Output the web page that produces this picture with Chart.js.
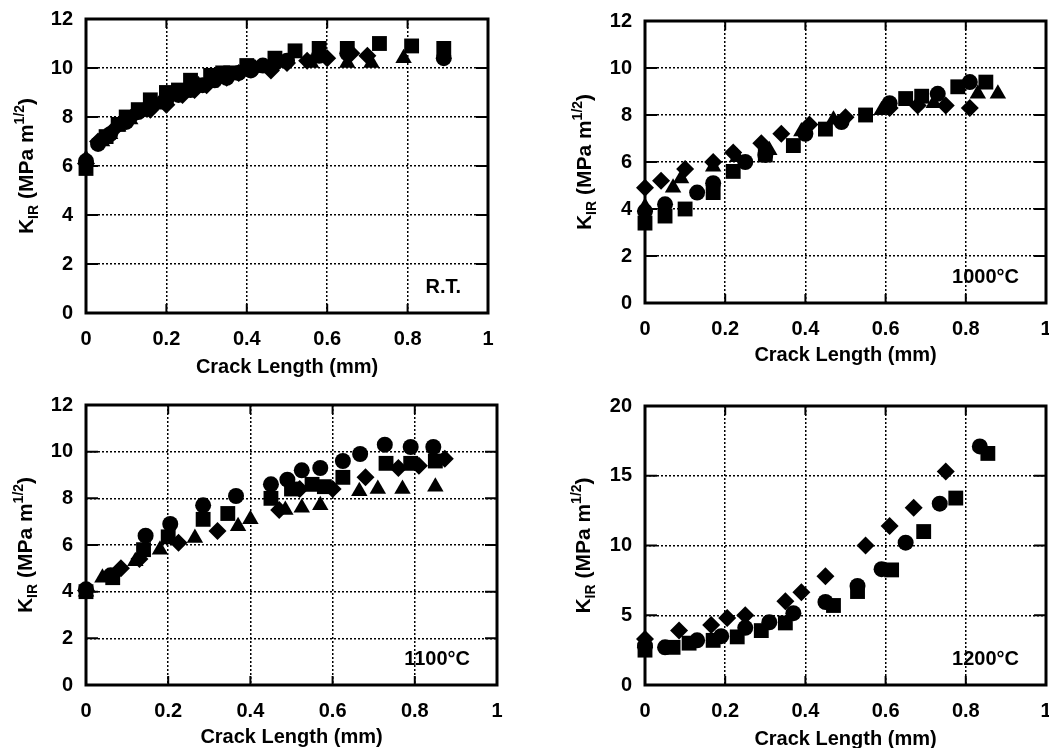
<!DOCTYPE html>
<html>
<head>
<meta charset="utf-8">
<script src="https://cdn.jsdelivr.net/npm/chart.js@4/dist/chart.umd.min.js"></script>
<style>
  body { margin: 0; background: #fff; }
  #wrap { position: relative; width: 1049px; height: 748px; overflow: hidden; background: #fff; }
  canvas { position: absolute; }
</style>
</head>
<body>
<div id="wrap">
  <canvas id="rt" style="left:0;top:0" width="520" height="380"></canvas>
  <canvas id="t1000" style="left:520px;top:0" width="545" height="380"></canvas>
  <canvas id="t1100" style="left:0;top:380px" width="520" height="368"></canvas>
  <canvas id="t1200" style="left:520px;top:380px" width="545" height="368"></canvas>
</div>
<script>
// [crack length (mm), K_IR (MPa m^1/2)]
const rtCircle = [[0,6.2],[0.03,6.9],[0.06,7.3],[0.1,7.8],[0.13,8.2],[0.16,8.4],[0.2,8.7],[0.23,8.9],[0.26,9.1],[0.29,9.3],[0.32,9.5],[0.35,9.6],[0.38,9.8],[0.41,9.9],[0.44,10.1],[0.47,10.2],[0.5,10.3],[0.58,10.5],[0.65,10.6],[0.89,10.4]];
const rtSquare = [[0,5.9],[0.05,7.2],[0.08,7.7],[0.1,8.0],[0.13,8.3],[0.16,8.7],[0.2,9.0],[0.23,9.1],[0.26,9.5],[0.31,9.7],[0.34,9.8],[0.36,9.8],[0.4,10.1],[0.47,10.4],[0.52,10.7],[0.58,10.8],[0.65,10.8],[0.73,11.0],[0.81,10.9],[0.89,10.8]];
const rtDiamond = [[0,6.1],[0.03,7.0],[0.07,7.5],[0.09,7.8],[0.12,8.1],[0.16,8.3],[0.2,8.5],[0.24,8.9],[0.27,9.1],[0.3,9.3],[0.35,9.6],[0.38,9.8],[0.42,10.0],[0.46,9.9],[0.5,10.2],[0.55,10.3],[0.6,10.4],[0.66,10.6],[0.7,10.5]];
const rtTriangle = [[0,6.3],[0.04,7.0],[0.06,7.3],[0.08,7.6],[0.11,7.9],[0.14,8.2],[0.18,8.5],[0.22,8.9],[0.25,9.1],[0.28,9.3],[0.31,9.4],[0.34,9.6],[0.37,9.7],[0.4,9.9],[0.44,10.0],[0.48,10.2],[0.56,10.2],[0.65,10.2],[0.71,10.2],[0.79,10.4]];

const c1000Circle = [[0,3.9],[0.05,4.2],[0.13,4.7],[0.17,5.1],[0.25,6.0],[0.3,6.3],[0.4,7.2],[0.49,7.7],[0.61,8.5],[0.73,8.9],[0.81,9.4]];
const c1000Square = [[0,3.4],[0.05,3.7],[0.1,4.0],[0.17,4.7],[0.22,5.6],[0.3,6.3],[0.37,6.7],[0.45,7.4],[0.55,8.0],[0.65,8.7],[0.69,8.8],[0.78,9.2],[0.85,9.4]];
const c1000Diamond = [[0,4.9],[0.04,5.2],[0.1,5.7],[0.17,6.0],[0.22,6.4],[0.29,6.8],[0.34,7.2],[0.41,7.6],[0.5,7.9],[0.61,8.3],[0.68,8.4],[0.75,8.4],[0.81,8.3]];
const c1000Triangle = [[0,4.1],[0.07,4.9],[0.09,5.3],[0.17,5.8],[0.23,6.2],[0.31,6.5],[0.39,7.3],[0.47,7.8],[0.59,8.2],[0.72,8.5],[0.83,8.9],[0.88,8.9]];

const c1100Circle = [[0,4.1],[0.06,4.7],[0.145,6.4],[0.205,6.9],[0.285,7.7],[0.365,8.1],[0.45,8.6],[0.49,8.8],[0.525,9.2],[0.57,9.3],[0.625,9.6],[0.667,9.9],[0.727,10.3],[0.79,10.2],[0.845,10.2]];
const c1100Square = [[0,4.0],[0.065,4.6],[0.14,5.8],[0.2,6.35],[0.285,7.1],[0.345,7.35],[0.45,8.0],[0.5,8.4],[0.55,8.6],[0.58,8.5],[0.625,8.9],[0.73,9.5],[0.79,9.5],[0.85,9.6]];
const c1100Diamond = [[0,4.05],[0.085,5.0],[0.13,5.4],[0.225,6.1],[0.32,6.6],[0.47,7.5],[0.52,8.4],[0.6,8.4],[0.68,8.9],[0.76,9.3],[0.81,9.4],[0.873,9.7]];
const c1100Triangle = [[0,4.0],[0.04,4.6],[0.12,5.3],[0.18,5.8],[0.265,6.3],[0.37,6.8],[0.4,7.1],[0.485,7.5],[0.525,7.6],[0.57,7.7],[0.665,8.3],[0.71,8.4],[0.77,8.4],[0.85,8.5]];

const c1200Circle = [[0,2.8],[0.05,2.7],[0.13,3.2],[0.19,3.5],[0.25,4.1],[0.31,4.5],[0.37,5.15],[0.45,5.95],[0.53,7.1],[0.59,8.3],[0.65,10.2],[0.735,13.0],[0.835,17.1]];
const c1200Square = [[0,2.5],[0.07,2.7],[0.11,3.0],[0.17,3.2],[0.23,3.45],[0.29,3.9],[0.35,4.45],[0.47,5.7],[0.53,6.7],[0.615,8.25],[0.695,11.0],[0.775,13.4],[0.855,16.6]];
const c1200Diamond = [[0,3.3],[0.085,3.9],[0.165,4.3],[0.205,4.8],[0.25,5.0],[0.35,6.0],[0.39,6.65],[0.45,7.8],[0.55,10.0],[0.61,11.4],[0.67,12.7],[0.75,15.3]];
const c1200Triangle = [[0,3.0]];

const xLabel = 'Crack Length (mm)';
const FONT = "'Liberation Sans', Arial, Helvetica, sans-serif";
const markerStyles = ['circle', 'rect', 'rectRot', 'triangle'];
const markerRadii = [8, 10.5, 9, 9.5];

// frame, inward tick marks, axis titles and the temperature tag
const framePlugin = {
  id: 'frame',
  beforeDatasetsDraw(chart, args, o) {
    const { ctx, chartArea: a, scales } = chart;
    ctx.save();
    ctx.strokeStyle = '#000';
    ctx.lineWidth = 2;
    ctx.beginPath();
    scales.x.ticks.forEach(t => {
      const px = scales.x.getPixelForValue(t.value);
      ctx.moveTo(px, a.bottom); ctx.lineTo(px, a.bottom - 9);
      ctx.moveTo(px, a.top); ctx.lineTo(px, a.top + 9);
    });
    scales.y.ticks.forEach(t => {
      const py = scales.y.getPixelForValue(t.value);
      ctx.moveTo(a.left, py); ctx.lineTo(a.left + 12, py);
      ctx.moveTo(a.right, py); ctx.lineTo(a.right - 12, py);
    });
    ctx.stroke();
    ctx.lineWidth = 3;
    ctx.strokeRect(a.left, a.top, a.right - a.left, a.bottom - a.top);

    ctx.fillStyle = '#000';
    // x title
    ctx.font = 'bold 20px ' + FONT;
    ctx.textAlign = 'center';
    ctx.textBaseline = 'alphabetic';
    ctx.fillText(xLabel, (a.left + a.right) / 2, o.xTitleY);

    // temperature tag
    ctx.textAlign = 'right';
    ctx.fillText(o.tag, a.right - 27, a.bottom - 20);

    // y title with subscript / superscript
    const parts = [
      { t: 'K', f: 21, dy: 0 },
      { t: 'IR', f: 14, dy: 5 },
      { t: ' (MPa m', f: 21, dy: 0 },
      { t: '1/2', f: 14, dy: -9 },
      { t: ')', f: 21, dy: 0 }
    ];
    let total = 0;
    parts.forEach(p => { ctx.font = 'bold ' + p.f + 'px ' + FONT; p.w = ctx.measureText(p.t).width; total += p.w; });
    ctx.translate(o.yTitleX, (a.top + a.bottom) / 2);
    ctx.rotate(-Math.PI / 2);
    ctx.textAlign = 'left';
    let cx = -total / 2;
    parts.forEach(p => {
      ctx.font = 'bold ' + p.f + 'px ' + FONT;
      ctx.fillText(p.t, cx, p.dy);
      cx += p.w;
    });
    ctx.restore();
  }
};

function panel(id, series, yMax, yStep, o) {
  const tickFont = { family: FONT, size: 20, weight: 'bold' };
  return new Chart(document.getElementById(id), {
    type: 'scatter',
    data: {
      datasets: series.map((s, i) => ({
        data: s.map(p => ({ x: p[0], y: p[1] })),
        pointStyle: markerStyles[i],
        pointRadius: markerRadii[i],
        backgroundColor: '#000',
        borderColor: '#000',
        pointBorderWidth: 0,
        clip: false
      }))
    },
    options: {
      responsive: false,
      animation: false,
      layout: { padding: { top: o.top, right: o.right, left: 0, bottom: 0 } },
      plugins: { legend: { display: false }, tooltip: { enabled: false }, frame: o },
      scales: {
        x: {
          type: 'linear', min: 0, max: 1,
          ticks: { stepSize: 0.2, padding: 14, color: '#000', font: tickFont, maxRotation: 0, autoSkip: false,
                   callback: v => String(+v.toFixed(1)) },
          grid: { color: '#000', lineWidth: 1.5, drawTicks: false },
          border: { display: false, dash: [2, 2] },
          afterFit(s) { s.height = o.xh; s.paddingLeft = 0; s.paddingRight = 0; }
        },
        y: {
          min: 0, max: yMax,
          ticks: { stepSize: yStep, padding: 13, color: '#000', font: tickFont, autoSkip: false },
          grid: { color: '#000', lineWidth: 1.5, drawTicks: false },
          border: { display: false, dash: [2, 2] },
          afterFit(s) { s.width = o.yw; s.paddingTop = 0; s.paddingBottom = 0; }
        }
      }
    },
    plugins: [framePlugin]
  });
}

panel('rt', [rtCircle, rtSquare, rtDiamond, rtTriangle], 12, 2,
  { top: 19, right: 32, xh: 67, yw: 86, xTitleY: 373, yTitleX: 33, tag: 'R.T.' });
panel('t1000', [c1000Circle, c1000Square, c1000Diamond, c1000Triangle], 12, 2,
  { top: 21, right: 19, xh: 77, yw: 125, xTitleY: 361, yTitleX: 71, tag: '1000°C' });
panel('t1100', [c1100Circle, c1100Square, c1100Diamond, c1100Triangle], 12, 2,
  { top: 25, right: 23, xh: 63, yw: 86, xTitleY: 363, yTitleX: 32, tag: '1100°C' });
panel('t1200', [c1200Circle, c1200Square, c1200Diamond, c1200Triangle], 20, 5,
  { top: 26, right: 19, xh: 63, yw: 125, xTitleY: 365, yTitleX: 70, tag: '1200°C' });
</script>
</body>
</html>
